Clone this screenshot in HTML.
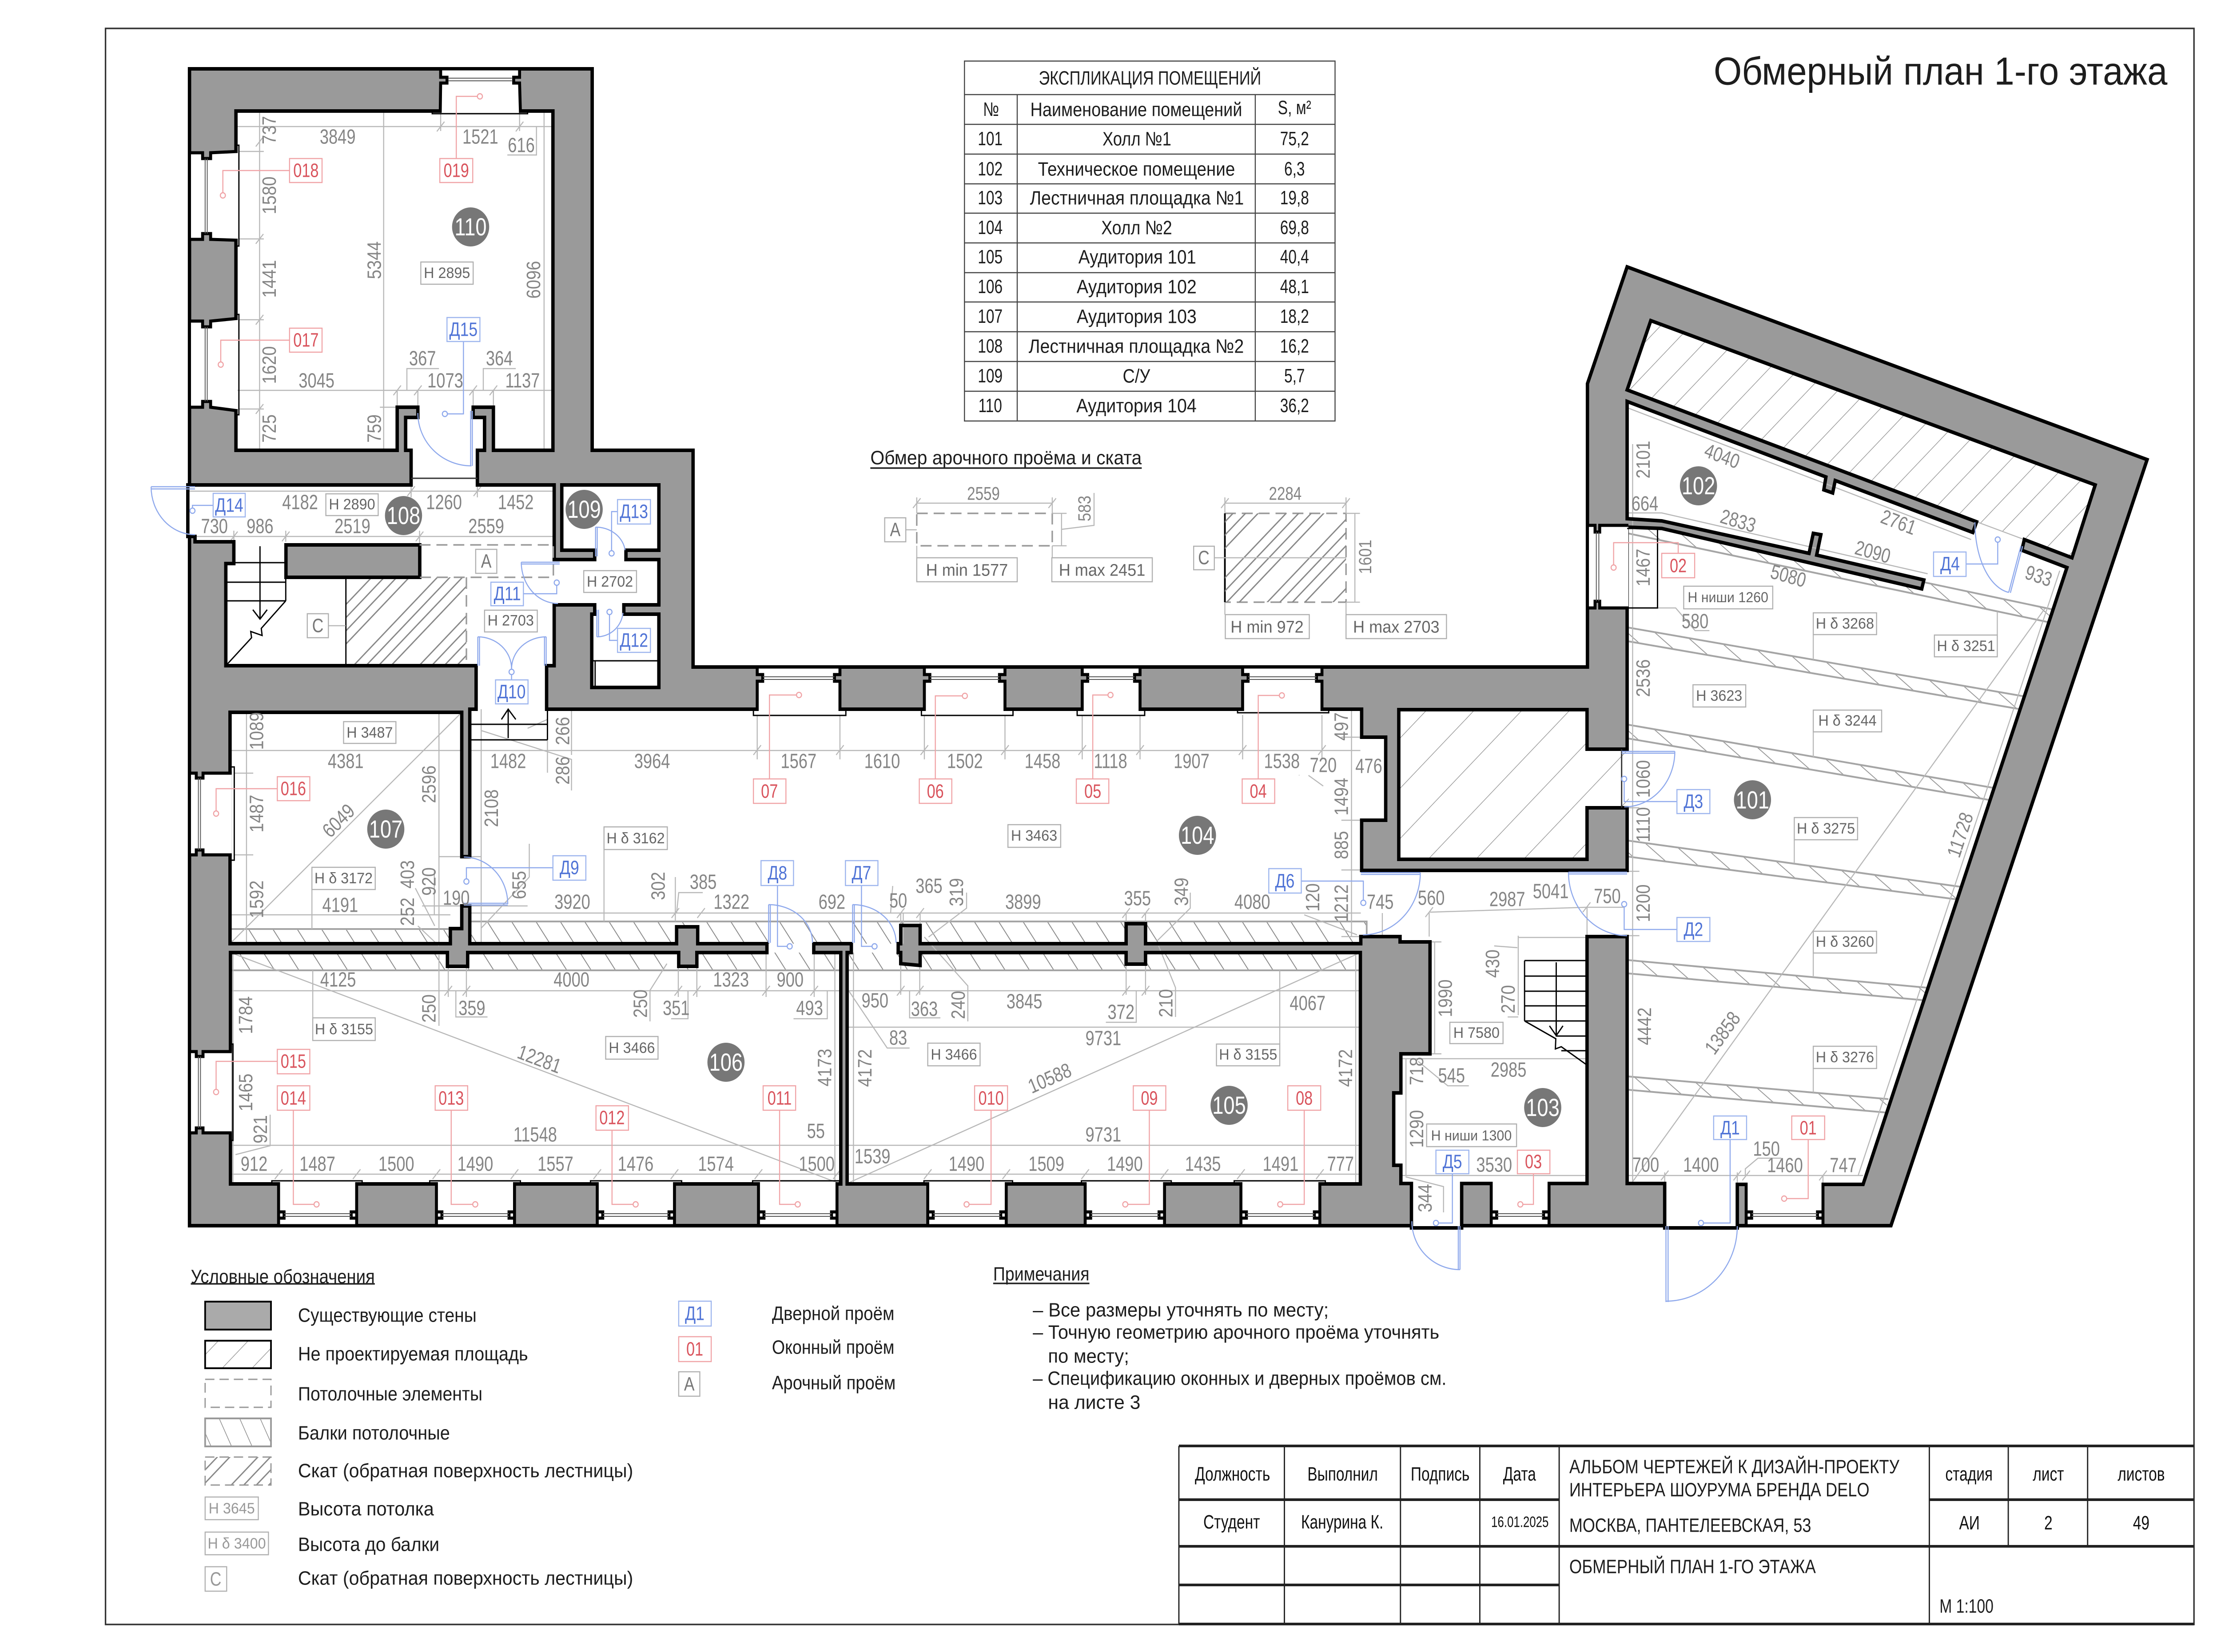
<!DOCTYPE html>
<html lang="ru"><head><meta charset="utf-8"><title>Обмерный план 1-го этажа</title>
<style>
html,body{margin:0;padding:0;background:#fff;width:100%;height:100%;overflow:hidden}
svg{display:block;position:absolute;left:0;top:0;width:100vw;height:100vh}
text{font-family:"Liberation Sans","DejaVu Sans",sans-serif;text-anchor:middle;dominant-baseline:central;transform-box:fill-box;transform-origin:center}
.d{font-size:46px;fill:#858585;transform:scaleX(.83)}
.v{font-size:46px;fill:#858585;transform:rotate(-90deg) scaleX(.83)}
.a{font-size:46px;fill:#858585}
.n{font-size:34px;fill:#666}
.tr{fill:#fff;stroke:#f0a3a6;stroke-width:2.5}
.tb{fill:#fff;stroke:#9db5ee;stroke-width:2.5}
.tg{fill:#fff;stroke:#b0b0b0;stroke-width:2.5}
.r{font-size:44px;fill:#d9535c;transform:scaleX(.82)}
.b{font-size:44px;fill:#4f73d6;transform:scaleX(.85)}
.g{font-size:44px;fill:#777;transform:scaleX(.85)}
.rc{fill:#777}
.rm{font-size:56px;fill:#fff;transform:scaleX(.85)}
.l{text-anchor:start;fill:#1d1d1d;font-size:44px}
.tc{fill:#1d1d1d;font-size:44px;transform:scaleX(.8)}
.k{fill:#111;font-size:44px;transform:scaleX(.8)}
.w{fill:#fff;stroke:#000;stroke-width:7;stroke-linejoin:miter}
.ln{fill:none;stroke:#b8b8b8;stroke-width:2.5}
.bm{fill:none;stroke:#a5a5a5;stroke-width:4}
.blk{fill:none;stroke:#000;stroke-width:3}
.rl{fill:none;stroke:#f0a3a6;stroke-width:2.5}
.bl{fill:none;stroke:#8fa9ec;stroke-width:2.5}
.dsh{fill:none;stroke:#9a9a9a;stroke-width:3.5;stroke-dasharray:26 14}
</style></head><body>
<svg xmlns="http://www.w3.org/2000/svg" viewBox="0 0 5262 3720" preserveAspectRatio="none">
<defs>
<pattern id="hb" patternUnits="userSpaceOnUse" width="48" height="48" patternTransform="rotate(-33.7)"><path d="M0 0V48" stroke="#888" stroke-width="4"/></pattern>
<pattern id="hb2" patternUnits="userSpaceOnUse" width="42" height="42" patternTransform="rotate(-50)"><path d="M0 0V42" stroke="#999" stroke-width="4"/></pattern>
<pattern id="ha" patternUnits="userSpaceOnUse" width="80" height="80" patternTransform="rotate(45)"><path d="M0 0V80" stroke="#9a9a9a" stroke-width="3"/></pattern>
<pattern id="ha2" patternUnits="userSpaceOnUse" width="50" height="50" patternTransform="rotate(45)"><path d="M0 0V50" stroke="#9a9a9a" stroke-width="3"/></pattern>
<pattern id="hc" patternUnits="userSpaceOnUse" width="110" height="110" patternTransform="rotate(45)"><path d="M2 0V110M23 0V110M44 0V110M65 0V110" stroke="#888" stroke-width="3"/></pattern>
<pattern id="hl" patternUnits="userSpaceOnUse" width="44" height="44" patternTransform="rotate(-25)"><path d="M0 0V44" stroke="#888" stroke-width="3"/></pattern>
<path id="m" d="M445,1092 L974,1092 974,1014 961,1014 961,940 990,940 990,917 941,917 941,1014 559,1014 559,250 1310,250 1310,1014 1169,1014 1169,917 1121,917 1121,940 1148,940 1148,1014 1131,1014 1131,1092 1313,1092 1313,1260 1409,1260 1409,1239 1331,1239 1331,1092 1561,1092 1561,1239 1483,1239 1483,1260 1561,1260 1561,1362 1478,1362 1478,1383 1561,1383 1561,1548 1402,1548 1402,1383 1409,1383 1409,1362 1313,1362 1313,1499 1295,1499 1295,1597 3226,1597 3226,1660 3283,1660 3283,1847 3226,1847 3226,1960 3855,1960 3855,1819 3760,1819 3760,1935 3314,1935 3314,1598 3760,1598 3760,1687 3855,1687 3855,1187 3937,1190 4553,1326 4558,1306 4304,1250 4314,1204 4296,1201 4286,1246 3937,1173 3855,1168 3855,904 4326,1074 4321,1103 4342,1110 4348,1082 4674,1199 4683,1175 3855,878 3911,722 4964,1092 4909,1256 4796,1215 4790,1239 4897,1278 4414,2667 4116,2667 4116,2765 3944,2765 3944,2665 3855,2665 3855,2109 3760,2109 3760,2665 3463,2665 3463,2765 3344,2765 3344,2665 3319,2665 3319,2624 3302,2624 3302,2461 3319,2461 3319,2373 3388,2373 3388,2121 3317,2121 3317,2109 3224,2109 3224,2125 2714,2125 2714,2080 2668,2080 2668,2125 2180,2125 2180,2084 2134,2084 2134,2125 2128,2125 2128,2145 2134,2145 2134,2170 2180,2174 2180,2145 2668,2145 2668,2171 2714,2171 2714,2145 3223,2145 3223,2666 2007,2666 2007,2145 2017,2145 2017,2125 1928,2125 1928,2145 1992,2145 1992,2666 546,2666 546,2145 1060,2145 1060,2176 1108,2176 1108,2145 1608,2145 1608,2176 1651,2176 1651,2145 1817,2145 1817,2125 1653,2125 1653,2087 1603,2087 1603,2125 1113,2125 1113,2040 1094,2040 1094,2091 1067,2091 1067,2125 545,2125 545,1604 1094,1604 1094,1929 1113,1929 1113,1597 1128,1597 1128,1499 535,1499 535,1269 554,1269 554,1220 462,1220 462,1208 445,1208 Z"/>
<clipPath id="in"><use href="#m"/></clipPath>
</defs>
<rect width="5262" height="3720" fill="#fff"/>
<rect x="250" y="64" width="4948" height="3594" fill="none" stroke="#333" stroke-width="3.5"/>

<!-- walls -->
<path d="M449,155 H1403 V1014 H1642 V1502 H3761 V864 L3855,601 5087,1035 4480,2760 H449 Z" fill="#9a9a9a" stroke="#000" stroke-width="8"/>
<use href="#m" fill="#fff"/>

<!-- hatches & beams -->
<g clip-path="url(#in)">
<rect x="3314" y="1598" width="545" height="340" fill="url(#ha)"/>
<path d="M3855,878 L3911,722 4964,1092 4909,1256 4796,1215 4683,1175Z" fill="url(#ha2)"/>
<rect x="819" y="1300" width="286" height="199" fill="url(#hc)"/>
<rect x="545" y="2092" width="522" height="33" fill="url(#hb)"/>
<rect x="1113" y="2075" width="2125" height="50" fill="url(#hb)"/>
<rect x="546" y="2145" width="2680" height="40" fill="url(#hb)"/>
<path d="M3857,1170 4866,1373 4853,1401 3857,1201Z" fill="url(#hb2)"/>
<path d="M3857,1413 4795,1568 4786,1597 3857,1444Z" fill="url(#hb2)"/>
<path d="M3858,1632 4722,1774 4711,1801 3858,1663Z" fill="url(#hb2)"/>
<path d="M3858,1893 4646,1997 4634,2025 3858,1929Z" fill="url(#hb2)"/>
<path d="M3858,2162 4564,2224 4554,2252 3858,2192Z" fill="url(#hb2)"/>
<path d="M3858,2424 4474,2475 4466,2505 3858,2454Z" fill="url(#hb2)"/>
<path class="bm" d="M545,2092H1067 M1113,2075H3238V2125 M546,2185H3223 M3857,1170 4866,1373 M3857,1201 4853,1401 M3857,1413 4795,1568 M3857,1444 4786,1597 M3858,1632 4722,1774 M3858,1663 4711,1801 M3858,1893 4646,1997 M3858,1929 4634,2025 M3858,2162 4564,2224 M3858,2192 4554,2252 M3858,2424 4474,2475 M3858,2454 4466,2505"/>
</g>

<!-- thin dimension / extension lines -->
<path class="ln" d="M559,285H1310 M559,879H1310 M615,250V1014 M909,250V1014 M1289,250V1014 M1271,285V349H1202 M964,879V830H1040 M1145,879V830H1222 M566,341H625 M566,538H625 M566,720H625 M566,921H625 M900,917H941 M941,879V917 M990,879V917 M1121,879V917 M1169,879V917
M1044,250V295 M1231,250V295
M449,1106H1313 M462,1208H1313 M974,1092V1120 M1131,1092V1120 M554,1195V1220 M677,1195V1220 M994,1195V1227
M545,1690H1094 M584,1604V2125 M1040,1604V2125 M545,2125 L1094,1604 M545,2060H1067 M739,2003V2092 M555,1741H600 M555,1925H600 M1029,2060V1960H1029 M1040,1929H1140 M1040,2040H1140 M990,2085 L1040,2130 M984,2000L1030,2085
M1113,1690H3223 M1140,1597V2125 M1431,1913V2075 M1794,1610V1710 M1990,1610V1710 M2190,1610V1710 M2381,1610V1710 M2564,1610V1710 M2701,1610V1710 M2944,1610V1710 M3132,1610V1710 M3202,1598V2109 M3178,1660H3226 M3178,1847H3226 M3178,1959H3226 M3178,2109H3226 M1113,2056H3224 M1297,1690V1720 M1297,1600V1740 M1250,1640L1297,1620 M1140,1645L1354,1710V1780 M1354,1600V1700 M1250,2040H1000
M1600,1975V2075 M1665,2010H1608L1603,2056 M1140,2090L1254,1975 M1254,1900V1975
M2115,1995L2110,2056 M2134,2056V2125 M2140,2056V2125 M2180,2056V2084 M2290,2010V2045L2200,2110 M2668,2056V2080 M2714,2056V2080 M2820,2010V2045L2740,2120 M3135,1770L3100,1746 M3078,1745V1746 M3090,2060L3215,2105
M546,2231H1992 M546,2579H1992 M546,2644H1992 M546,2145 L1989,2665 M552,2145V2666 M1978,2145V2666 M741,2185V2292 M1062,2176V2245 M1105,2176V2245 M1607,2176V2245 M1651,2176V2245 M1815,2145V2245 M1929,2145V2245 M1040,2150V2310 M1540,2300V2230L1580,2170 M1080,2231V2290H1155 M1630,2231V2294H1590 M1960,2231V2294H1880 M640,2510V2580L558,2600
M2007,2231H3223 M2007,2313H3223 M2007,2579H3223 M2007,2644H3223 M2007,2665 L3223,2145 M2022,2145V2666 M3212,2145V2666 M3032,2185V2351 M2134,2174V2240 M2179,2174V2240 M2668,2171V2240 M2714,2171V2240 M2155,2231V2292H2228 M2692,2231V2302H2620 M2293,2300V2220L2190,2110 M2785,2290V2224L2745,2130 M2010,2230L2102,2360H2155
M3868,1000V2665 M3865,2665 L4845,1370 M4402,2648 L4880,1285 M3855,2647H4414 M3855,1155H3937L4567,1292 M3855,918L4670,1215 M4683,1175L4796,1215 M3855,1369H3970L4016,1420H4050 M4296,1429V1485 M4732,1377V1430 M4296,1648V1705 M4251,1891V1944 M4296,2146V2198 M4296,2406V2460 M3388,2054L3759,2043 M3848,2043H3760 M3598,2111H3760 M3597,2107V2286 M3540,2130L3595,2134 M3572,2290H3597 M3399,2121V2373 M3320,2384H3760 M3320,2647H3760 M3331,2384V2647 M3360,2390L3430,2445H3480 M3330,2650L3420,2672V2730 M3760,2043V2109
M4135,2647V2632L4165,2608H4220 M3386,2054V2109 M3275,2056V2110 M4319,2647V2667 M3944,2640V2665 M4116,2640V2665"/>
<path class="ln" d="M606,330l18-22 M606,549l18-22 M606,731l18-22 M606,932l18-22 M932,890l18-22 M981,890l18-22 M1112,890l18-22 M1160,890l18-22 M1035,296l18-22 M1222,296l18-22 M965,1117l18-22 M1122,1117l18-22 M545,1219l18-22 M668,1219l18-22 M985,1219l18-22 M1785,1700l18-22 M1981,1700l18-22 M2181,1700l18-22 M2372,1700l18-22 M2555,1700l18-22 M2692,1700l18-22 M2935,1700l18-22 M3123,1700l18-22 M1591,2067l18-22 M1652,2067l18-22 M2125,2067l18-22 M2171,2067l18-22 M2659,2067l18-22 M2705,2067l18-22 M1053,2242l18-22 M1096,2242l18-22 M1598,2242l18-22 M1642,2242l18-22 M1806,2242l18-22 M1920,2242l18-22 M2125,2242l18-22 M2170,2242l18-22 M2659,2242l18-22 M2705,2242l18-22 M651,2655l18-22 M836,2655l18-22 M1025,2655l18-22 M1210,2655l18-22 M1406,2655l18-22 M1589,2655l18-22 M1788,2655l18-22 M1974,2655l18-22 M2189,2655l18-22 M2375,2655l18-22 M2562,2655l18-22 M2750,2655l18-22 M2931,2655l18-22 M3118,2655l18-22 M3935,2658l18-22 M4107,2658l18-22 M4128,2658l18-22 M4310,2658l18-22 M3750,2054l18-22 M3377,2065l18-22 M3858,1692h26 M3858,1819h26 M3858,1962h26 M3858,2107h26 M3389,2121h26 M3389,2373h26"/>

<!-- interior wall lines -->
<use href="#m" fill="none" stroke="#000" stroke-width="8" stroke-linejoin="miter"/>
<rect x="677.5" y="1227" width="317" height="73" fill="#9a9a9a" stroke="#000" stroke-width="8"/>

<!-- windows -->
<path class="w" d="M1043,254 L1044,187H1059V174H1044V155H1231V174H1217V187H1231L1233,254"/>
<path class="w" d="M563,341 L499,344V357H480V344H449V539H480V526H499V539L563,541"/>
<path class="w" d="M563,717 L499,723V736H480V723H449V917H480V904H499V917L563,925"/>
<path class="w" d="M549,1741H481V1752H465V1741H449V1925H465V1914H481V1925H549"/>
<path class="w" d="M549,2368H481V2379H465V2368H449V2551H465V2540H481V2551H549"/>
<path class="w" d="M1794,1601V1534H1807V1519H1794V1502H1990V1519H1977V1534H1990V1601"/>
<path class="w" d="M2190,1601V1534H2203V1519H2190V1502H2381V1519H2368V1534H2381V1601"/>
<path class="w" d="M2564,1601V1534H2577V1519H2564V1502H2701V1519H2688V1534H2701V1601"/>
<path class="w" d="M2944,1601V1534H2957V1519H2944V1502H3132V1519H3119V1534H3132V1601"/>
<path class="w" d="M660,2662V2743H673V2729H660V2760H845V2729H832V2743H845V2662"/>
<path class="w" d="M1034,2662V2743H1047V2729H1034V2760H1219V2729H1206V2743H1219V2662"/>
<path class="w" d="M1415,2662V2743H1428V2729H1415V2760H1598V2729H1585V2743H1598V2662"/>
<path class="w" d="M1797,2662V2743H1810V2729H1797V2760H1983V2729H1970V2743H1983V2662"/>
<path class="w" d="M2198,2662V2743H2211V2729H2198V2760H2384V2729H2371V2743H2384V2662"/>
<path class="w" d="M2571,2662V2743H2584V2729H2571V2760H2759V2729H2746V2743H2759V2662"/>
<path class="w" d="M2940,2662V2743H2953V2729H2940V2760H3127V2729H3114V2743H3127V2662"/>
<path class="w" d="M3533,2661V2743H3546V2729H3533V2760H3670V2729H3657V2743H3670V2661"/>
<path class="w" d="M4137,2663V2743H4150V2729H4137V2760H4319V2729H4306V2743H4319V2663"/>
<path class="w" d="M3858,1183H3790V1198H3779V1183H3761V1369H3779V1354H3790V1369H3858"/>
<path class="blk" d="M1024,250V256H1250V250 M559,327H566V554H559 M559,708H566V934H559 M545,1727H555V1937H545 M546,2351H552V2568H546 M1785,1598V1611H2004V1598 M2183,1598V1611H2400V1598 M2552,1598V1611H2712V1598 M2932,1598V1605H3148V1598 M644,2666V2659H858V2666 M1018,2666V2659H1233V2666 M1399,2666V2659H1615V2666 M1783,2666V2659H1989V2666 M2189,2666V2659H2399V2666 M2562,2666V2659H2775V2666 M2924,2666V2659H3140V2666 M3855,1190H3927V1369H3855"/>
<path d="M1062,176H1213M1062,182H1213M486,357V526M491,357V526M486,736V904M491,736V904M470,1752V1914M475,1752V1914M470,2379V2540M475,2379V2540M1807,1524H1977M1807,1530H1977M2203,1524H2368M2203,1530H2368M2577,1524H2688M2577,1530H2688M2957,1524H3119M2957,1530H3119M673,2733H832M673,2739H832M1047,2733H1206M1047,2739H1206M1428,2733H1585M1428,2739H1585M1810,2733H1970M1810,2739H1970M2211,2733H2371M2211,2739H2371M2584,2733H2746M2584,2739H2746M2953,2733H3114M2953,2739H3114M3546,2733H3657M3546,2739H3657M4150,2733H4306M4150,2739H4306M3782,1198V1354M3788,1198V1354" stroke="#555" stroke-width="2" fill="none"/>
<path d="M974,1077H1131 M3842,1687V1819" stroke="#333" stroke-width="3" fill="none"/>

<!-- stairs and room C -->
<path d="M538,1267H677 M538,1311H677 M538,1353H677 M677,1227V1353 M677,1353L619,1415 621,1431 594,1422 596,1436 538,1496 M819.5,1300V1499 M616,1230V1394 M599,1373L616,1394 633,1373 M1112,1631H1297 M1112,1666H1297 M1297,1597V1666 M1204,1662V1597 M1188,1620L1204,1597 1222,1620 M3612,2163H3758 M3612,2198H3758 M3612,2232H3758 M3612,2265H3758 M3612,2299H3758 M3686,2333H3758 M3699,2366H3758 M3612,2163V2299 M3612,2299L3686,2339 3685,2362 3699,2357 3758,2397 M3687,2167V2332 M3671,2310L3687,2332 3703,2310 M1402,1488H1561 M1410,1488V1548" fill="none" stroke="#000" stroke-width="3"/>
<path class="dsh" d="M994,1227H1311V1300H994 M1105,1300V1499"/>

<!-- doors -->
<path class="bl" d="M358,1096H462 M358,1101H462 M358,1096A104,108 0 0 0 462,1204 M1411,1187V1253 M1415,1187V1253 M1411,1187A70,60 0 0 1 1481,1239 M1235,1266H1326 M1235,1270H1326 M1235,1266A87,93 0 0 0 1322,1359 M1414,1373V1434 M1418,1373V1434 M1414,1434A62,60 0 0 0 1476,1380 M1132,1434V1499 M1136,1434V1499 M1132,1434A80,72 0 0 1 1212,1506 M1294,1434V1499 M1290,1434V1499 M1294,1434A82,72 0 0 0 1212,1506 M1099,1930A104,106 0 0 1 1203,2036 M1099,2038H1203 M1099,2034H1203 M1821,2037V2123 M1825,2037V2123 M1821,2037A104,86 0 0 1 1925,2123 M2020,2037V2123 M2024,2037V2123 M2020,2037A103,86 0 0 1 2123,2123 M3224,1965H3365 M3224,1969H3365 M3365,1965A136,140 0 0 1 3229,2105 M1115,925V1049 M1119,925V1049 M990,930A127,119 0 0 0 1117,1049 M3842,1692H3968 M3842,1696H3968 M3968,1692A120,125 0 0 1 3848,1817 M3716,1964H3855 M3716,1968H3855 M3716,1964A139,143 0 0 0 3855,2107 M3947,2761V2932 M3952,2761V2932 M4116,2761A169,169 0 0 1 3947,2930 M3459,2761V2859 M3455,2761V2859 M3345,2750A114,109 0 0 0 3459,2859 M4788,1229L4759,1334 M4792,1230L4763,1335 M4759,1334A92,158 0 0 1 4679,1176"/>

<!-- leaders -->
<g class="rl"><path d="M686,384H528V434 M686,766H523V815 M1081,357V217H1131 M657,1776H512V1826 M657,2390H512V2453 M695,2500V2712H744 M1069,2500V2712H1120 M1450,2545V2712H1500 M1847,2500V2712H1884 M2348,2500V2712H2296 M2723,2500V2712H2672 M3090,2500V2712H3039 M1823,1754V1565H1887 M2216,1754V1567H2280 M2589,1754V1565H2625 M2981,1754V1566H3031 M3976,1246V1222H3823V1272 M3633,2643V2712H3608 M4284,2566V2699H4233"/>
<circle cx="528" cy="440" r="6"/><circle cx="523" cy="821" r="6"/><circle cx="1137" cy="217" r="6"/><circle cx="512" cy="1832" r="6"/><circle cx="512" cy="2459" r="6"/><circle cx="750" cy="2712" r="6"/><circle cx="1126" cy="2712" r="6"/><circle cx="1506" cy="2712" r="6"/><circle cx="1890" cy="2712" r="6"/><circle cx="2290" cy="2712" r="6"/><circle cx="2666" cy="2712" r="6"/><circle cx="3033" cy="2712" r="6"/><circle cx="1893" cy="1565" r="6"/><circle cx="2286" cy="1567" r="6"/><circle cx="2631" cy="1565" r="6"/><circle cx="3037" cy="1566" r="6"/><circle cx="3823" cy="1278" r="6"/><circle cx="3602" cy="2712" r="6"/><circle cx="4227" cy="2699" r="6"/></g>
<g class="bl"><path d="M1098,769V932H1060 M505,1138H456V1144 M1463,1152H1449V1240 M1240,1337H1319V1318 M1463,1442H1444V1384 M1212,1531V1519 M1310,1954H1105V1979 M1842,1994V2131H1865 M2041,1994V2131H2066 M3083,1984H3230V2027 M3973,1805H3848V1760 M3973,2093H3848V2042 M4658,1270H4733V1221 M4099,2566V2754H4036 M3441,2643V2754H3408"/>
<circle cx="1054" cy="932" r="6"/><circle cx="456" cy="1150" r="6"/><circle cx="1449" cy="1246" r="6"/><circle cx="1319" cy="1312" r="6"/><circle cx="1444" cy="1378" r="6"/><circle cx="1212" cy="1513" r="6"/><circle cx="1105" cy="1985" r="6"/><circle cx="1871" cy="2131" r="6"/><circle cx="2072" cy="2131" r="6"/><circle cx="3230" cy="2033" r="6"/><circle cx="3848" cy="1754" r="6"/><circle cx="3848" cy="2036" r="6"/><circle cx="4733" cy="1215" r="6"/><circle cx="4030" cy="2754" r="6"/><circle cx="3402" cy="2754" r="6"/></g>
<path class="ln" d="M778,1409H819"/>

<!-- dimension text -->
<text class="d" x="800" y="308">3849</text><text class="d" x="1138" y="308">1521</text><text class="d" x="1235" y="327">616</text>
<text class="v" x="638" y="293">737</text><text class="v" x="638" y="440">1580</text><text class="v" x="638" y="628">1441</text><text class="v" x="638" y="822">1620</text><text class="v" x="638" y="965">725</text>
<text class="v" x="887" y="586">5344</text><text class="v" x="1264" y="630">6096</text><text class="v" x="887" y="965">759</text>
<text class="d" x="750" y="857">3045</text><text class="d" x="1055" y="857">1073</text><text class="d" x="1238" y="857">1137</text><text class="d" x="1001" y="807">367</text><text class="d" x="1183" y="807">364</text>
<text class="d" x="711" y="1131">4182</text><text class="d" x="1052" y="1131">1260</text><text class="d" x="1222" y="1131">1452</text>
<text class="d" x="508" y="1185">730</text><text class="d" x="616" y="1185">986</text><text class="d" x="835" y="1185">2519</text><text class="d" x="1152" y="1185">2559</text>
<text class="v" x="608" y="1646">1089</text><text class="d" x="819" y="1714">4381</text><text class="d" x="1204" y="1714">1482</text><text class="d" x="1545" y="1714">3964</text>
<text class="v" x="1333" y="1646">266</text><text class="v" x="1333" y="1735">286</text><text class="v" x="1016" y="1766">2596</text><text class="v" x="608" y="1832">1487</text><text class="v" x="1164" y="1820">2108</text>
<text class="a" x="802" y="1848" style="transform:rotate(-44deg) scaleX(.83)">6049</text>
<text class="v" x="1230" y="1993">655</text><text class="d" x="1356" y="2031">3920</text><text class="v" x="1559" y="1995">302</text><text class="d" x="1666" y="1986">385</text>
<text class="v" x="1016" y="1985">920</text><text class="v" x="965" y="1969">403</text><text class="v" x="965" y="2053">252</text><text class="d" x="1081" y="2022">190</text><text class="d" x="806" y="2038">4191</text><text class="v" x="608" y="2025">1592</text>
<text class="d" x="1892" y="1714">1567</text><text class="d" x="2090" y="1714">1610</text><text class="d" x="2286" y="1714">1502</text><text class="d" x="2470" y="1714">1458</text><text class="d" x="2631" y="1714">1118</text><text class="d" x="2823" y="1714">1907</text><text class="d" x="3037" y="1714">1538</text><text class="d" x="3135" y="1723">720</text><text class="d" x="3243" y="1725">476</text>
<text class="v" x="3178" y="1636">497</text><text class="v" x="3178" y="1794">1494</text><text class="v" x="3178" y="1903">885</text><text class="v" x="3178" y="2034">1212</text><text class="v" x="3110" y="2021">120</text>
<text class="d" x="1733" y="2031">1322</text><text class="d" x="1971" y="2031">692</text><text class="d" x="2128" y="2028">50</text><text class="d" x="2201" y="1995">365</text><text class="v" x="2266" y="2009">319</text><text class="d" x="2424" y="2031">3899</text><text class="d" x="2695" y="2023">355</text><text class="v" x="2799" y="2008">349</text><text class="d" x="2967" y="2031">4080</text><text class="d" x="3270" y="2031">745</text>
<text class="d" x="3391" y="2022">560</text><text class="d" x="3571" y="2025">2987</text><text class="d" x="3674" y="2007">5041</text><text class="d" x="3808" y="2018">750</text>
<text class="v" x="3893" y="1754">1060</text><text class="v" x="3893" y="1857">1110</text><text class="v" x="3893" y="2034">1200</text><text class="v" x="3896" y="2311">4442</text><text class="v" x="3893" y="1527">2536</text><text class="v" x="3893" y="1035">2101</text><text class="v" x="3893" y="1278">1467</text>
<text class="d" x="3897" y="1134">664</text>
<text class="a" x="4118" y="1173" style="transform:rotate(16deg) scaleX(.83)">2833</text><text class="a" x="4080" y="1027" style="transform:rotate(20deg) scaleX(.83)">4040</text><text class="a" x="4498" y="1176" style="transform:rotate(20deg) scaleX(.83)">2761</text><text class="a" x="4437" y="1243" style="transform:rotate(15deg) scaleX(.83)">2090</text><text class="a" x="4237" y="1297" style="transform:rotate(15deg) scaleX(.83)">5080</text><text class="a" x="4830" y="1297" style="transform:rotate(18deg) scaleX(.83)">933</text>
<text class="d" x="4016" y="1399">580</text>
<text class="a" x="4644" y="1880" style="transform:rotate(-71deg) scaleX(.83)">11728</text><text class="a" x="4081" y="2326" style="transform:rotate(-53deg) scaleX(.83)">13858</text>
<text class="d" x="3899" y="2623">700</text><text class="d" x="4030" y="2623">1400</text><text class="d" x="4185" y="2587">150</text><text class="d" x="4229" y="2624">1460</text><text class="d" x="4367" y="2624">747</text>
<text class="v" x="3424" y="2248">1990</text><text class="v" x="3536" y="2170">430</text><text class="v" x="3573" y="2250">270</text><text class="d" x="3439" y="2422">545</text><text class="d" x="3574" y="2409">2985</text><text class="v" x="3356" y="2412">718</text><text class="v" x="3356" y="2542">1290</text><text class="d" x="3540" y="2623">3530</text><text class="v" x="3376" y="2698">344</text>
<text class="d" x="801" y="2206">4125</text><text class="d" x="1354" y="2206">4000</text><text class="d" x="1732" y="2206">1323</text><text class="d" x="1872" y="2206">900</text>
<text class="v" x="1016" y="2271">250</text><text class="d" x="1118" y="2270">359</text><text class="v" x="1517" y="2260">250</text><text class="d" x="1602" y="2270">351</text><text class="d" x="1918" y="2270">493</text>
<text class="v" x="582" y="2286">1784</text><text class="v" x="582" y="2460">1465</text><text class="v" x="617" y="2543">921</text>
<text class="a" x="1278" y="2385" style="transform:rotate(20deg) scaleX(.83)">12281</text>
<text class="v" x="1954" y="2404">4173</text><text class="d" x="1268" y="2555">11548</text><text class="d" x="1933" y="2547">55</text>
<text class="d" x="602" y="2621">912</text><text class="d" x="752" y="2621">1487</text><text class="d" x="939" y="2621">1500</text><text class="d" x="1126" y="2621">1490</text><text class="d" x="1316" y="2621">1557</text><text class="d" x="1506" y="2621">1476</text><text class="d" x="1696" y="2621">1574</text><text class="d" x="1935" y="2621">1500</text>
<text class="d" x="2073" y="2253">950</text><text class="d" x="2190" y="2272">363</text><text class="v" x="2270" y="2263">240</text><text class="d" x="2427" y="2255">3845</text><text class="d" x="2656" y="2279">372</text><text class="v" x="2762" y="2259">210</text><text class="d" x="3098" y="2259">4067</text>
<text class="d" x="2128" y="2337">83</text><text class="d" x="2614" y="2338">9731</text><text class="v" x="2049" y="2405">4172</text><text class="v" x="3188" y="2405">4172</text>
<text class="a" x="2487" y="2428" style="transform:rotate(-23deg) scaleX(.83)">10588</text>
<text class="d" x="2614" y="2555">9731</text><text class="d" x="2067" y="2604">1539</text>
<text class="d" x="2290" y="2621">1490</text><text class="d" x="2479" y="2621">1509</text><text class="d" x="2665" y="2621">1490</text><text class="d" x="2850" y="2621">1435</text><text class="d" x="3034" y="2621">1491</text><text class="d" x="3176" y="2621">777</text>

<!-- height boxes -->
<rect class="tg" x="997" y="590" width="124" height="50"/><text class="n" x="1059" y="615">Н 2895</text>
<rect class="tg" x="772" y="1112" width="124" height="49"/><text class="n" x="834" y="1136">Н 2890</text>
<rect class="tg" x="1383" y="1285" width="125" height="49"/><text class="n" x="1445" y="1310">Н 2702</text>
<rect class="tg" x="1148" y="1374" width="125" height="49"/><text class="n" x="1210" y="1398">Н 2703</text>
<rect class="tg" x="814" y="1625" width="124" height="49"/><text class="n" x="876" y="1650">Н 3487</text>
<rect class="tg" x="1431" y="1862" width="150" height="51"/><text class="n" x="1506" y="1888">Н δ 3162</text>
<rect class="tg" x="739" y="1953" width="150" height="50"/><text class="n" x="814" y="1978">Н δ 3172</text>
<rect class="tg" x="2388" y="1857" width="125" height="51"/><text class="n" x="2450" y="1882">Н 3463</text>
<rect class="tg" x="741" y="2292" width="148" height="51"/><text class="n" x="815" y="2318">Н δ 3155</text>
<rect class="tg" x="1435" y="2334" width="124" height="51"/><text class="n" x="1497" y="2360">Н 3466</text>
<rect class="tg" x="2198" y="2349" width="124" height="51"/><text class="n" x="2260" y="2375">Н 3466</text>
<rect class="tg" x="2882" y="2351" width="150" height="49"/><text class="n" x="2957" y="2375">Н δ 3155</text>
<rect class="tg" x="3435" y="2302" width="126" height="48"/><text class="n" x="3498" y="2326">Н 7580</text>
<rect class="tg" x="3380" y="2531" width="213" height="51"/><text class="n" x="3486" y="2557" style="font-size:32px">Н ниши 1300</text>
<rect class="tg" x="3989" y="1320" width="211" height="51"/><text class="n" x="4094" y="1345" style="font-size:32px">Н ниши 1260</text>
<rect class="tg" x="4296" y="1380" width="150" height="49"/><text class="n" x="4371" y="1405">Н δ 3268</text>
<rect class="tg" x="4583" y="1430" width="149" height="49"/><text class="n" x="4658" y="1455">Н δ 3251</text>
<rect class="tg" x="4011" y="1542" width="125" height="50"/><text class="n" x="4073" y="1567">Н 3623</text>
<rect class="tg" x="4296" y="1599" width="162" height="49"/><text class="n" x="4377" y="1623">Н δ 3244</text>
<rect class="tg" x="4251" y="1841" width="150" height="50"/><text class="n" x="4326" y="1866">Н δ 3275</text>
<rect class="tg" x="4296" y="2097" width="150" height="49"/><text class="n" x="4371" y="2121">Н δ 3260</text>
<rect class="tg" x="4296" y="2356" width="150" height="50"/><text class="n" x="4371" y="2381">Н δ 3276</text>

<!-- window tags -->
<rect class="tr" x="686" y="357" width="77" height="54"/><text class="r" x="725" y="384">018</text>
<rect class="tr" x="1042" y="357" width="78" height="54"/><text class="r" x="1081" y="384">019</text>
<rect class="tr" x="686" y="739" width="77" height="54"/><text class="r" x="725" y="766">017</text>
<rect class="tr" x="657" y="1749" width="77" height="54"/><text class="r" x="695" y="1776">016</text>
<rect class="tr" x="657" y="2363" width="77" height="55"/><text class="r" x="695" y="2390">015</text>
<rect class="tr" x="657" y="2445" width="77" height="55"/><text class="r" x="695" y="2473">014</text>
<rect class="tr" x="1031" y="2445" width="77" height="55"/><text class="r" x="1069" y="2473">013</text>
<rect class="tr" x="1412" y="2490" width="77" height="55"/><text class="r" x="1450" y="2517">012</text>
<rect class="tr" x="1808" y="2445" width="77" height="55"/><text class="r" x="1847" y="2473">011</text>
<rect class="tr" x="2309" y="2445" width="78" height="55"/><text class="r" x="2348" y="2473">010</text>
<rect class="tr" x="2685" y="2445" width="77" height="55"/><text class="r" x="2723" y="2473">09</text>
<rect class="tr" x="3051" y="2445" width="78" height="55"/><text class="r" x="3090" y="2473">08</text>
<rect class="tr" x="1785" y="1754" width="77" height="55"/><text class="r" x="1823" y="1782">07</text>
<rect class="tr" x="2178" y="1754" width="77" height="55"/><text class="r" x="2216" y="1782">06</text>
<rect class="tr" x="2550" y="1754" width="77" height="55"/><text class="r" x="2589" y="1782">05</text>
<rect class="tr" x="2943" y="1754" width="77" height="55"/><text class="r" x="2981" y="1782">04</text>
<rect class="tr" x="3595" y="2590" width="77" height="53"/><text class="r" x="3633" y="2616">03</text>
<rect class="tr" x="3937" y="1246" width="78" height="55"/><text class="r" x="3976" y="1274">02</text>
<rect class="tr" x="4245" y="2513" width="78" height="53"/><text class="r" x="4284" y="2540">01</text>

<!-- door tags -->
<rect class="tb" x="1059" y="715" width="78" height="54"/><text class="b" x="1098" y="742">Д15</text>
<rect class="tb" x="505" y="1111" width="76" height="53"/><text class="b" x="543" y="1138">Д14</text>
<rect class="tb" x="1463" y="1125" width="78" height="55"/><text class="b" x="1502" y="1152">Д13</text>
<rect class="tb" x="1463" y="1415" width="78" height="54"/><text class="b" x="1502" y="1442">Д12</text>
<rect class="tb" x="1163" y="1311" width="77" height="53"/><text class="b" x="1202" y="1337">Д11</text>
<rect class="tb" x="1174" y="1531" width="77" height="54"/><text class="b" x="1212" y="1558">Д10</text>
<rect class="tb" x="1310" y="1927" width="78" height="55"/><text class="b" x="1349" y="1954">Д9</text>
<rect class="tb" x="1803" y="1938" width="77" height="56"/><text class="b" x="1842" y="1966">Д8</text>
<rect class="tb" x="2003" y="1938" width="77" height="56"/><text class="b" x="2041" y="1966">Д7</text>
<rect class="tb" x="3006" y="1956" width="77" height="55"/><text class="b" x="3044" y="1984">Д6</text>
<rect class="tb" x="3402" y="2590" width="78" height="53"/><text class="b" x="3441" y="2616">Д5</text>
<rect class="tb" x="4581" y="1243" width="77" height="55"/><text class="b" x="4620" y="1270">Д4</text>
<rect class="tb" x="3973" y="1778" width="78" height="54"/><text class="b" x="4012" y="1805">Д3</text>
<rect class="tb" x="3973" y="2066" width="78" height="54"/><text class="b" x="4012" y="2093">Д2</text>
<rect class="tb" x="4060" y="2513" width="78" height="53"/><text class="b" x="4099" y="2540">Д1</text>

<rect class="tg" x="1127" y="1237" width="50" height="54"/><text class="g" x="1152" y="1264">А</text>
<rect class="tg" x="728" y="1382" width="50" height="54"/><text class="g" x="753" y="1409">С</text>

<!-- room numbers -->
<circle class="rc" cx="1115" cy="511" r="44"/><text class="rm" x="1115" y="511">110</text>
<circle class="rc" cx="956" cy="1161" r="44"/><text class="rm" x="956" y="1161">108</text>
<circle class="rc" cx="1384" cy="1147" r="44"/><text class="rm" x="1384" y="1147">109</text>
<circle class="rc" cx="914" cy="1867" r="44"/><text class="rm" x="914" y="1867">107</text>
<circle class="rc" cx="2837" cy="1881" r="44"/><text class="rm" x="2837" y="1881">104</text>
<circle class="rc" cx="1720" cy="2392" r="44"/><text class="rm" x="1720" y="2392">106</text>
<circle class="rc" cx="2912" cy="2489" r="44"/><text class="rm" x="2912" y="2489">105</text>
<circle class="rc" cx="3655" cy="2494" r="44"/><text class="rm" x="3655" y="2494">103</text>
<circle class="rc" cx="4024" cy="1094" r="44"/><text class="rm" x="4024" y="1094">102</text>
<circle class="rc" cx="4152" cy="1801" r="44"/><text class="rm" x="4152" y="1801">101</text>

<!-- title -->
<text class="l" x="4060" y="161" style="font-size:88px" textLength="1075" lengthAdjust="spacingAndGlyphs">Обмерный план 1-го этажа</text>

<!-- explication table -->
<path d="M2285,137.5H3163V948H2285Z M2285,213H3163 M2285,280H3163 M2285,347H3163 M2285,414H3163 M2285,480H3163 M2285,547H3163 M2285,614H3163 M2285,680H3163 M2285,747H3163 M2285,814H3163 M2285,881H3163 M2410,213V948 M2974,213V948" fill="none" stroke="#444" stroke-width="2.5"/>
<text class="l" x="2461" y="176" textLength="527" lengthAdjust="spacingAndGlyphs">ЭКСПЛИКАЦИЯ ПОМЕЩЕНИЙ</text>
<text class="tc" x="2348" y="247">№</text><text class="l" x="2441" y="247" textLength="502" lengthAdjust="spacingAndGlyphs">Наименование помещений</text><text class="tc" x="3067" y="243">S, м²</text>
<text class="tc" x="2346" y="313">101</text><text class="l" x="2612" y="313" textLength="163" lengthAdjust="spacingAndGlyphs">Холл №1</text><text class="tc" x="3067" y="313">75,2</text>
<text class="tc" x="2346" y="381">102</text><text class="l" x="2459" y="381" textLength="467" lengthAdjust="spacingAndGlyphs">Техническое помещение</text><text class="tc" x="3067" y="381">6,3</text>
<text class="tc" x="2346" y="446">103</text><text class="l" x="2440" y="446" textLength="507" lengthAdjust="spacingAndGlyphs">Лестничная площадка №1</text><text class="tc" x="3067" y="446">19,8</text>
<text class="tc" x="2346" y="513">104</text><text class="l" x="2609" y="513" textLength="168" lengthAdjust="spacingAndGlyphs">Холл №2</text><text class="tc" x="3067" y="513">69,8</text>
<text class="tc" x="2346" y="579">105</text><text class="l" x="2555" y="579" textLength="279" lengthAdjust="spacingAndGlyphs">Аудитория 101</text><text class="tc" x="3067" y="579">40,4</text>
<text class="tc" x="2346" y="646">106</text><text class="l" x="2551" y="646" textLength="284" lengthAdjust="spacingAndGlyphs">Аудитория 102</text><text class="tc" x="3067" y="646">48,1</text>
<text class="tc" x="2346" y="713">107</text><text class="l" x="2551" y="713" textLength="284" lengthAdjust="spacingAndGlyphs">Аудитория 103</text><text class="tc" x="3067" y="713">18,2</text>
<text class="tc" x="2346" y="780">108</text><text class="l" x="2437" y="780" textLength="510" lengthAdjust="spacingAndGlyphs">Лестничная площадка №2</text><text class="tc" x="3067" y="780">16,2</text>
<text class="tc" x="2346" y="847">109</text><text class="l" x="2660" y="847" textLength="65" lengthAdjust="spacingAndGlyphs">С/У</text><text class="tc" x="3067" y="847">5,7</text>
<text class="tc" x="2346" y="914">110</text><text class="l" x="2550" y="914" textLength="285" lengthAdjust="spacingAndGlyphs">Аудитория 104</text><text class="tc" x="3067" y="914">36,2</text>

<!-- arch & slope survey -->
<text class="l" x="2062" y="1031" textLength="643" lengthAdjust="spacingAndGlyphs">Обмер арочного проёма и ската</text>
<path d="M2062,1054H2705" stroke="#222" stroke-width="3.5"/>
<path class="dsh" d="M2172,1156H2493V1229H2172Z M2902,1156H3189V1356H2902"/>
<path d="M2902,1156V1356" stroke="#000" stroke-width="4"/>
<rect x="2902" y="1156" width="287" height="200" fill="url(#hc)"/>
<path class="ln" d="M2172,1133H2493 M2172,1120V1156 M2493,1120V1156 M2493,1156H2527 M2493,1229H2527 M2515,1156V1229 M2515,1192L2592,1183V1110 M2146,1193H2172 M2172,1229V1256 M2493,1229V1256 M2902,1133H3189 M2902,1120V1156 M3189,1120V1156 M3189,1156H3222 M3189,1356H3222 M3210,1156V1356 M2877,1256H3189 M2902,1356V1384 M3189,1356V1384"/>
<path class="ln" d="M2163,1144l18-22 M2484,1144l18-22 M2893,1144l18-22 M3180,1144l18-22"/>
<text class="d" x="2330" y="1112" style="font-size:42px">2559</text><text class="v" x="2569" y="1145" style="font-size:42px">583</text>
<text class="d" x="3045" y="1112" style="font-size:42px">2284</text><text class="v" x="3234" y="1254" style="font-size:42px">1601</text>
<rect class="tg" x="2096" y="1166" width="50" height="54"/><text class="g" x="2121" y="1193">А</text>
<rect class="tg" x="2828" y="1230" width="49" height="53"/><text class="g" x="2852" y="1256">С</text>
<rect class="tg" x="2172" y="1256" width="238" height="54"/><text class="n" x="2291" y="1283" style="font-size:38px">Н min 1577</text>
<rect class="tg" x="2492" y="1256" width="238" height="54"/><text class="n" x="2611" y="1283" style="font-size:38px">Н max 2451</text>
<rect class="tg" x="2903" y="1384" width="199" height="54"/><text class="n" x="3002" y="1411" style="font-size:38px">Н min 972</text>
<rect class="tg" x="3189" y="1384" width="238" height="54"/><text class="n" x="3308" y="1411" style="font-size:38px">Н max 2703</text>

<!-- legend -->
<text class="l" x="452" y="2875" textLength="436" lengthAdjust="spacingAndGlyphs">Условные обозначения</text>
<path d="M452,2891H888" stroke="#222" stroke-width="3.5"/>
<rect x="486" y="2931" width="156" height="63" fill="#aaa" stroke="#000" stroke-width="4"/>
<rect x="486" y="3019" width="156" height="62" fill="url(#ha2)" stroke="#000" stroke-width="4"/>
<rect x="486" y="3106" width="156" height="63" fill="none" stroke="#999" stroke-width="3" stroke-dasharray="22 12"/>
<rect x="486" y="3194" width="156" height="63" fill="url(#hl)" stroke="#999" stroke-width="4"/>
<rect x="486" y="3281" width="156" height="63" fill="url(#hc)" stroke="#999" stroke-width="3" stroke-dasharray="22 12"/>
<rect class="tg" x="486" y="3371" width="126" height="51"/><text class="n" x="549" y="3397" style="fill:#999">Н 3645</text>
<rect class="tg" x="486" y="3450" width="150" height="51"/><text class="n" x="561" y="3476" style="fill:#999">Н δ 3400</text>
<rect class="tg" x="486" y="3528" width="51" height="55"/><text class="g" x="511" y="3556" style="fill:#999">С</text>
<text class="l" x="706" y="2962" textLength="423" lengthAdjust="spacingAndGlyphs">Существующие стены</text>
<text class="l" x="706" y="3049" textLength="545" lengthAdjust="spacingAndGlyphs">Не проектируемая площадь</text>
<text class="l" x="706" y="3139" textLength="437" lengthAdjust="spacingAndGlyphs">Потолочные элементы</text>
<text class="l" x="706" y="3227" textLength="360" lengthAdjust="spacingAndGlyphs">Балки потолочные</text>
<text class="l" x="706" y="3312" textLength="794" lengthAdjust="spacingAndGlyphs">Скат (обратная поверхность лестницы)</text>
<text class="l" x="706" y="3398" textLength="322" lengthAdjust="spacingAndGlyphs">Высота потолка</text>
<text class="l" x="706" y="3478" textLength="335" lengthAdjust="spacingAndGlyphs">Высота до балки</text>
<text class="l" x="706" y="3554" textLength="794" lengthAdjust="spacingAndGlyphs">Скат (обратная поверхность лестницы)</text>
<rect class="tb" x="1608" y="2930" width="77" height="56"/><text class="b" x="1646" y="2958">Д1</text>
<rect class="tr" x="1608" y="3010" width="77" height="56"/><text class="r" x="1646" y="3038">01</text>
<rect class="tg" x="1608" y="3089" width="50" height="55"/><text class="g" x="1633" y="3117">А</text>
<text class="l" x="1829" y="2958" textLength="290" lengthAdjust="spacingAndGlyphs">Дверной проём</text>
<text class="l" x="1829" y="3034" textLength="290" lengthAdjust="spacingAndGlyphs">Оконный проём</text>
<text class="l" x="1829" y="3114" textLength="293" lengthAdjust="spacingAndGlyphs">Арочный проём</text>

<!-- notes -->
<text class="l" x="2353" y="2869" textLength="228" lengthAdjust="spacingAndGlyphs">Примечания</text>
<path d="M2353,2890H2581" stroke="#222" stroke-width="3.5"/>
<text class="l" x="2447" y="2950" textLength="701" lengthAdjust="spacingAndGlyphs">– Все размеры уточнять по месту;</text>
<text class="l" x="2447" y="3000" textLength="963" lengthAdjust="spacingAndGlyphs">– Точную геометрию арочного проёма уточнять</text>
<text class="l" x="2483" y="3054" textLength="192" lengthAdjust="spacingAndGlyphs">по месту;</text>
<text class="l" x="2447" y="3104" textLength="980" lengthAdjust="spacingAndGlyphs">– Спецификацию оконных и дверных проёмов см.</text>
<text class="l" x="2483" y="3158" textLength="219" lengthAdjust="spacingAndGlyphs">на листе 3</text>

<!-- title block -->
<path d="M2793,3256H5198 M2793,3377H3694 M4571,3377H5198 M2793,3482H5198 M2793,3569H3694 M2793,3657H5198" stroke="#222" stroke-width="6" fill="none"/>
<path d="M2793,3256V3657 M3043,3256V3657 M3318,3256V3657 M3506,3256V3657 M3694,3256V3657 M4571,3256V3657 M4758,3256V3482 M4946,3256V3482" stroke="#222" stroke-width="3" fill="none"/>
<text class="k" x="2920" y="3320">Должность</text><text class="k" x="3181" y="3320">Выполнил</text><text class="k" x="3412" y="3320">Подпись</text><text class="k" x="3600" y="3320">Дата</text>
<text class="l" x="3718" y="3303" textLength="782" lengthAdjust="spacingAndGlyphs">АЛЬБОМ ЧЕРТЕЖЕЙ К ДИЗАЙН-ПРОЕКТУ</text>
<text class="l" x="3718" y="3355" textLength="711" lengthAdjust="spacingAndGlyphs">ИНТЕРЬЕРА ШОУРУМА БРЕНДА DELO</text>
<text class="l" x="3718" y="3435" textLength="573" lengthAdjust="spacingAndGlyphs">МОСКВА, ПАНТЕЛЕЕВСКАЯ, 53</text>
<text class="l" x="3718" y="3528" textLength="584" lengthAdjust="spacingAndGlyphs">ОБМЕРНЫЙ ПЛАН 1-ГО ЭТАЖА</text>
<text class="k" x="4665" y="3320">стадия</text><text class="k" x="4853" y="3320">лист</text><text class="k" x="5073" y="3320">листов</text>
<text class="k" x="2918" y="3428">Студент</text><text class="k" x="3180" y="3428">Канурина К.</text><text class="k" x="3601" y="3428" style="font-size:34px">16.01.2025</text>
<text class="k" x="4666" y="3430">АИ</text><text class="k" x="4853" y="3430">2</text><text class="k" x="5073" y="3430">49</text>
<text class="l" x="4595" y="3617" textLength="128" lengthAdjust="spacingAndGlyphs">М 1:100</text>
</svg>
</body></html>
